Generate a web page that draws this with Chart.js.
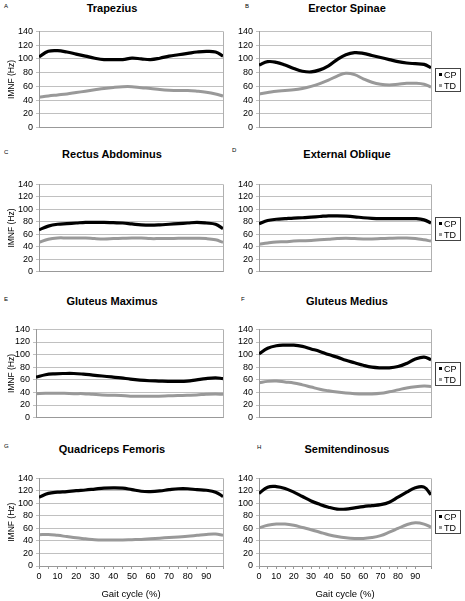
<!DOCTYPE html>
<html>
<head>
<meta charset="utf-8">
<script src="https://cdn.jsdelivr.net/npm/chart.js@4.4.1/dist/chart.umd.min.js"></script>
<style>
body { margin: 0; background: #fff; font-family: "Liberation Sans", Arial, sans-serif; }
#wrap { position: relative; width: 465px; height: 601px; overflow: hidden; }
canvas { position: absolute; }
.ttl { position: absolute; font-weight: bold; font-size: 11px; transform: translate(-50%, -50%); white-space: nowrap; }
.let { position: absolute; font-size: 6px; }
.leg { position: absolute; left: 435px; width: 26px; height: 24px; border: 1px solid #444; font-size: 9px; line-height: 11px; padding: 1px 0 0 3px; box-sizing: border-box; }
.sw { display: inline-block; width: 3px; height: 3px; margin-right: 2px; vertical-align: middle; position: relative; top: -1px; }
</style>
</head>
<body>
<div id="wrap"></div>
<script>
// gait cycle sample points (%)
const gait = [0, 5, 10, 15, 20, 25, 30, 35, 40, 45, 50, 55, 60, 65, 70, 75, 80, 85, 90, 95, 99];
const yMin = 0, yMax = 140, yStep = 20;

const trapCP = [103, 111, 112, 110, 107, 104, 101, 99, 99, 99, 101, 100, 99, 101, 104, 106, 108, 110, 111, 110, 104];
const trapTD = [44, 46, 47.5, 49, 51, 53, 55, 57, 58.5, 59.5, 59.5, 58, 57, 55.5, 54.5, 54, 54, 53, 51.5, 49, 46];
const erecCP = [91, 96, 95, 91, 86, 82, 81, 84, 90, 99, 106, 109, 108, 105, 102, 99, 96, 94, 93, 92, 87];
const erecTD = [49, 51, 53, 54, 55, 57, 60, 64, 69, 75, 79, 77, 71, 66, 63, 62, 63, 64.5, 64.5, 63, 59];
const rectCP = [67, 73, 76, 77, 78, 79, 79, 79, 78.5, 78, 76.5, 75, 74.5, 75, 76, 77, 78, 79, 78, 76, 69];
const rectTD = [47, 52, 54, 54, 54, 54, 53, 52.5, 53, 53.5, 54, 54, 53, 53, 53, 53.5, 53.5, 53.5, 53, 51, 47];
const extCP = [77, 82, 84, 85, 86, 86.5, 87.5, 88.5, 89.5, 89.5, 89, 88, 86.5, 85.5, 85, 85, 85, 85, 85, 83, 78];
const extTD = [44, 46, 47.5, 48, 49, 49.5, 50, 51, 52, 53, 53.5, 53, 52.5, 52.5, 53, 53.5, 54, 54, 53, 51, 49];
const gmaxCP = [64, 68, 69.5, 70, 70, 69, 67.5, 66, 64.5, 63, 61, 59.5, 58.5, 58, 57.5, 57.5, 58, 60, 62, 63, 62];
const gmaxTD = [38, 38.5, 38.5, 38.5, 38, 38, 37, 36, 35.5, 35, 34, 34, 34, 34, 34.5, 35, 35.5, 36, 37, 37.5, 37];
const gmedCP = [101, 110, 114, 115, 115, 113, 109, 105, 100, 96, 91, 87, 83, 80, 79, 79, 81, 86, 93, 96, 92];
const gmedTD = [55, 57.5, 58, 56.5, 55, 52, 48.5, 45, 42.5, 40.5, 39, 38, 37.5, 37.5, 38.5, 41, 44, 47, 49, 50, 49.5];
const quadCP = [110, 116, 118, 119, 120.5, 121.5, 123, 124.5, 125, 124.5, 122, 119.5, 119, 120, 122, 123.5, 123.5, 122, 121, 118, 111];
const quadTD = [50, 50.5, 49, 47, 45, 43.5, 42, 41.5, 41.5, 41.5, 42, 42.5, 43.5, 44.5, 45.5, 46.5, 47.5, 49, 50.5, 51, 49];
const semiCP = [116, 126, 127, 124, 118, 111, 104, 98.5, 94, 91, 91, 93, 95, 96.5, 98, 102, 110, 118, 125, 126, 114];
const semiTD = [61, 65, 67, 67, 65, 61.5, 58, 54, 50, 47, 45, 44, 44, 45.5, 48.5, 54, 60, 66, 69, 67, 62];

const panels = [
  { letter: 'A', title: 'Trapezius', cp: trapCP, td: trapTD, row: 0, col: 0 },
  { letter: 'B', title: 'Erector Spinae', cp: erecCP, td: erecTD, row: 0, col: 1 },
  { letter: 'C', title: 'Rectus Abdominus', cp: rectCP, td: rectTD, row: 1, col: 0 },
  { letter: 'D', title: 'External Oblique', cp: extCP, td: extTD, row: 1, col: 1 },
  { letter: 'E', title: 'Gluteus Maximus', cp: gmaxCP, td: gmaxTD, row: 2, col: 0 },
  { letter: 'F', title: 'Gluteus Medius', cp: gmedCP, td: gmedTD, row: 2, col: 1 },
  { letter: 'G', title: 'Quadriceps Femoris', cp: quadCP, td: quadTD, row: 3, col: 0 },
  { letter: 'H', title: 'Semitendinosus', cp: semiCP, td: semiTD, row: 3, col: 1 }
];

// layout
const rowTop = [29, 182, 327, 476];
const rowBot = [129, 273, 419, 566];
const titleY = [8, 154, 301, 449];
const letterPos = { A: [4, 3], B: [245, 3], C: [4, 149], D: [232, 147], E: [4, 296], F: [241, 296], G: [4, 443], H: [257, 444] };

Chart.defaults.font.family = '"Liberation Sans", Arial, sans-serif';
Chart.defaults.color = '#000';

const rightBorder = {
  id: 'rightBorder',
  afterDraw(chart) {
    const a = chart.chartArea, c = chart.ctx;
    c.save();
    c.strokeStyle = '#b0b0b0';
    c.lineWidth = 1;
    c.beginPath();
    c.moveTo(Math.round(a.right) + 0.5, a.top);
    c.lineTo(Math.round(a.right) + 0.5, a.bottom);
    c.stroke();
    c.restore();
  }
};

const wrap = document.getElementById('wrap');

panels.forEach(p => {
  const last = p.row === 3;
  const left = p.col === 0 ? 0 : 232;
  const width = p.col === 0 ? 232 : 233;
  const yW = p.col === 0 ? (p.letter === 'E' ? 36 : 39) : 27;
  const padR = p.col === 0 ? 9 : 34;
  const padT = 6;
  const xH = last ? 34 : 7;
  const top = rowTop[p.row] - padT;
  const height = rowBot[p.row] - rowTop[p.row] + padT + xH;

  const cv = document.createElement('canvas');
  cv.width = width; cv.height = height;
  cv.style.left = left + 'px'; cv.style.top = top + 'px';
  cv.style.width = width + 'px'; cv.style.height = height + 'px';
  wrap.appendChild(cv);

  const t = document.createElement('div');
  t.className = 'ttl';
  t.textContent = p.title;
  t.style.left = (p.col === 0 ? 112 : 347) + 'px';
  t.style.top = titleY[p.row] + 'px';
  wrap.appendChild(t);

  const l = document.createElement('div');
  l.className = 'let';
  l.textContent = p.letter;
  l.style.left = letterPos[p.letter][0] + 'px';
  l.style.top = letterPos[p.letter][1] + 'px';
  wrap.appendChild(l);

  if (p.col === 1) {
    const lg = document.createElement('div');
    lg.className = 'leg';
    lg.style.top = ((rowTop[p.row] + rowBot[p.row]) / 2 - 11) + 'px';
    lg.innerHTML = '<div><span class="sw" style="background:#000"></span>CP</div>' +
                   '<div><span class="sw" style="background:#999"></span>TD</div>';
    wrap.appendChild(lg);
  }

  new Chart(cv, {
    type: 'line',
    data: {
      datasets: [
        { label: 'CP', data: gait.map((x, i) => ({ x: x, y: p.cp[i] })), borderColor: '#000', borderWidth: 3.2, pointRadius: 0, tension: 0.4, fill: false },
        { label: 'TD', data: gait.map((x, i) => ({ x: x, y: p.td[i] })), borderColor: '#999', borderWidth: 3, pointRadius: 0, tension: 0.4, fill: false }
      ]
    },
    options: {
      responsive: false,
      animation: false,
      layout: { padding: { top: padT, right: padR, bottom: 0, left: 0 } },
      plugins: { legend: { display: false }, tooltip: { enabled: false } },
      scales: {
        x: {
          type: 'linear', min: 0, max: 99,
          afterFit: s => { s.height = xH; },
          grid: { display: last, drawOnChartArea: false, drawTicks: true, tickLength: 3, color: '#999' },
          border: { display: true, color: '#999' },
          ticks: {
            display: last, stepSize: 5, autoSkip: false, maxRotation: 0, padding: 2,
            font: { size: 9 },
            callback: v => (v % 10 === 0 ? v : '')
          },
          title: { display: last, text: 'Gait cycle (%)', font: { size: 9.5 }, padding: { top: 2, bottom: 0 } }
        },
        y: {
          min: yMin, max: yMax,
          afterFit: s => { s.width = yW; },
          grid: { color: '#c0c0c0', tickLength: 3 },
          border: { color: '#999' },
          ticks: { stepSize: yStep, autoSkip: false, padding: 3, font: { size: 9 } },
          title: { display: p.col === 0, text: 'IMNF (Hz)', font: { size: 8.5 }, padding: { top: 7, bottom: 0 } }
        }
      }
    },
    plugins: [rightBorder]
  });
});
</script>
</body>
</html>
